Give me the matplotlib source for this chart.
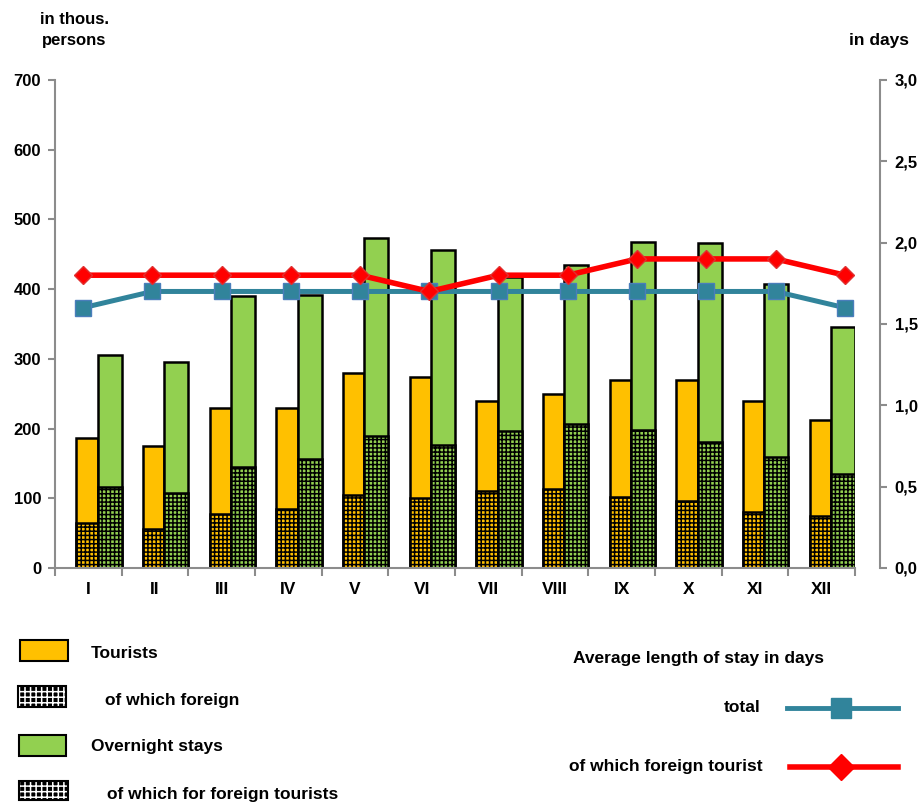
import numpy as np
import matplotlib
matplotlib.use('Agg')
import matplotlib.pyplot as plt
from matplotlib.patches import Rectangle
from matplotlib.lines import Line2D
from matplotlib.ticker import FuncFormatter

################################
#### data (thousands of persons / days)
################################

months = ['I', 'II', 'III', 'IV', 'V', 'VI', 'VII', 'VIII', 'IX', 'X', 'XI', 'XII']
tourists = [186, 175, 230, 230, 280, 274, 239, 250, 270, 270, 240, 212]
tourists_foreign = [64, 56, 78, 84, 104, 100, 110, 114, 102, 96, 80, 74]
nights = [305, 296, 390, 392, 473, 456, 418, 435, 468, 466, 408, 346]
nights_foreign = [116, 107, 145, 156, 190, 176, 197, 207, 198, 181, 159, 135]
stay_total = [1.6, 1.7, 1.7, 1.7, 1.7, 1.7, 1.7, 1.7, 1.7, 1.7, 1.7, 1.6]
stay_foreign = [1.8, 1.8, 1.8, 1.8, 1.8, 1.7, 1.8, 1.8, 1.9, 1.9, 1.9, 1.8]

################################
#### styles
################################

plt.rcParams['font.family'] = ['Liberation Sans', 'DejaVu Sans']
plt.rcParams['font.weight'] = 'bold'
plt.rcParams['hatch.linewidth'] = 1.1

orange = '#FFC000'
green = '#92D050'
teal = '#31849B'
red = '#FF0000'
grey = '#8c8c8c'

W, H = 919, 802  # figure size in pixels
def fx(px): return px / W
def fy(py): return 1 - py / H

fig = plt.figure(figsize=(W / 100, H / 100), dpi=100)

################################
#### bars (left axis)
################################

ax = fig.add_axes([fx(55), fy(568), 800 / W, 488 / H])
x = np.arange(len(months))
ax.bar(x - 0.02, tourists, 0.32, color=orange, edgecolor='black', lw=1.8)
ax.bar(x - 0.02, tourists_foreign, 0.32, color=orange, edgecolor='black', lw=1.8, hatch='++++')
ax.bar(x + 0.32, nights, 0.36, color=green, edgecolor='black', lw=1.8)
ax.bar(x + 0.32, nights_foreign, 0.36, color=green, edgecolor='black', lw=1.8, hatch='++++')

ax.set_xlim(-0.5, 11.5)
ax.set_ylim(0, 700)
ax.set_yticks(np.arange(0, 701, 100))
ax.set_xticks(x)
ax.set_xticklabels(months)
ax.set_xticks(np.arange(-0.5, 12, 1), minor=True)
ax.tick_params(axis='x', which='major', length=0, pad=10, labelsize=12.5)
ax.tick_params(axis='x', which='minor', length=6, width=1.5, color=grey)
ax.tick_params(axis='y', length=5, width=1.5, color=grey, pad=5, labelsize=12)
for s in ['top', 'right']:
    ax.spines[s].set_visible(False)
for s in ['left', 'bottom']:
    ax.spines[s].set_color(grey)
    ax.spines[s].set_linewidth(1.5)

################################
#### average length of stay (right axis)
################################

ax2 = fig.add_axes([fx(48.5), fy(568), 831 / W, 488 / H])
ax2.patch.set_alpha(0)
ax2.set_xlim(-0.5, 11.5)
ax2.set_ylim(0, 3)
ax2.plot(x, stay_total, color=teal, lw=3.6, marker='s', ms=12, mfc=teal, mec='#4a7ebb', zorder=3)
ax2.plot(x, stay_foreign, color=red, lw=4, marker='D', ms=9.5, mfc=red, mec='#e03030', zorder=4)
ax2.set_xticks([])
ax2.yaxis.tick_right()
ax2.set_yticks(np.arange(0, 3.01, 0.5))
ax2.yaxis.set_major_formatter(FuncFormatter(lambda v, p: f'{v:.1f}'.replace('.', ',')))
ax2.tick_params(axis='y', length=5, width=1.5, color=grey, pad=6, labelsize=12)
for s in ['top', 'left', 'bottom']:
    ax2.spines[s].set_visible(False)
ax2.spines['right'].set_color(grey)
ax2.spines['right'].set_linewidth(1.5)

################################
#### axis titles
################################

fig.text(fx(74), fy(12), 'in thous.\npersons', ha='center', va='top', fontsize=12, linespacing=1.5)
fig.text(fx(879), fy(40), 'in days', ha='center', va='center', fontsize=12.5)

################################
#### legend (drawn by hand)
################################

def legend_box(x0, y0, x1, y1, face, hatched=False):
    if hatched:
        fig.add_artist(Rectangle((fx(x0), fy(y1)), fx(x1) - fx(x0), fy(y0) - fy(y1),
                                 transform=fig.transFigure, facecolor='black',
                                 edgecolor='white', lw=0, hatch='+++'))
        fig.add_artist(Rectangle((fx(x0), fy(y1)), fx(x1) - fx(x0), fy(y0) - fy(y1),
                                 transform=fig.transFigure, fill=False,
                                 edgecolor='black', lw=1.5))
    else:
        fig.add_artist(Rectangle((fx(x0), fy(y1)), fx(x1) - fx(x0), fy(y0) - fy(y1),
                                 transform=fig.transFigure, facecolor=face,
                                 edgecolor='black', lw=1.5))

legend_box(20, 640, 68, 661, orange)
fig.text(fx(91), fy(653), 'Tourists', va='center', fontsize=12.5)
legend_box(18, 686, 66, 707, None, hatched=True)
fig.text(fx(105), fy(701), 'of which foreign', va='center', fontsize=12.5)
legend_box(19, 735, 66, 756, green)
fig.text(fx(91), fy(747), 'Overnight stays', va='center', fontsize=12.5)
legend_box(19, 781, 68, 800, None, hatched=True)
fig.text(fx(107), fy(794), 'of which for foreign tourists', va='center', fontsize=12.5)

fig.text(fx(573), fy(658), 'Average length of stay in days', va='center', fontsize=12.5)
fig.text(fx(760), fy(708), 'total', ha='right', va='center', fontsize=12.5)
fig.add_artist(Line2D([fx(787), fx(898)], [fy(708), fy(708)], transform=fig.transFigure,
                      color=teal, lw=3.5))
fig.add_artist(Line2D([fx(841)], [fy(708)], transform=fig.transFigure, marker='s', ms=14,
                      color=teal, mec=teal))
fig.text(fx(763), fy(766), 'of which foreign tourist', ha='right', va='center', fontsize=12.5)
fig.add_artist(Line2D([fx(790), fx(898)], [fy(767), fy(767)], transform=fig.transFigure,
                      color=red, lw=4))
fig.add_artist(Line2D([fx(841)], [fy(767)], transform=fig.transFigure, marker='D', ms=13,
                      color=red, mec=red))

fig.savefig('out.png', dpi=100)
